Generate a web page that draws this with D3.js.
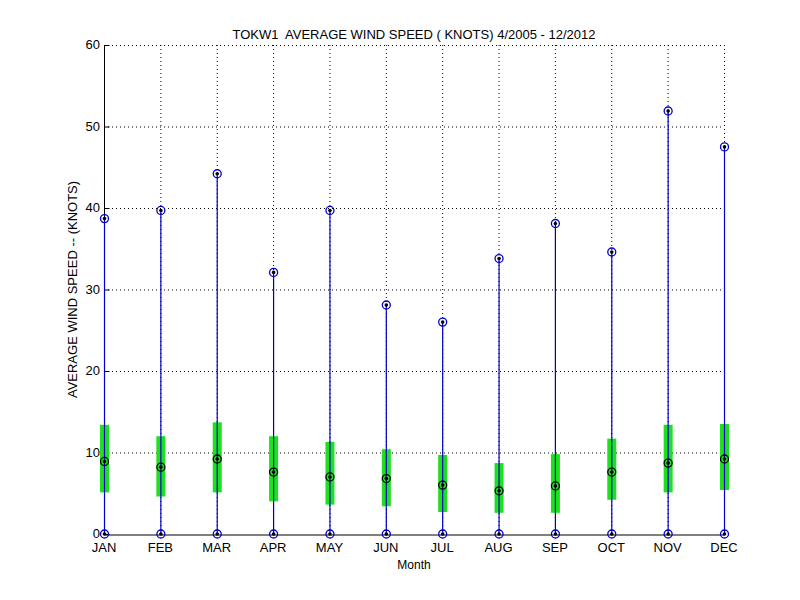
<!DOCTYPE html>
<html>
<head>
<meta charset="utf-8">
<script src="https://cdn.jsdelivr.net/npm/d3@7"></script>
<style>
  body { margin: 0; background: #fff; }
  text { font-family: "Liberation Sans", Arial, sans-serif; fill: #000; }
</style>
</head>
<body>
<div id="vis"></div>
<script>
// chart data
const MONTHS = ["JAN", "FEB", "MAR", "APR", "MAY", "JUN", "JUL", "AUG", "SEP", "OCT", "NOV", "DEC"];
const MAX_SPEED = [38.7, 39.7, 44.2, 32.1, 39.7, 28.1, 26.0, 33.8, 38.1, 34.6, 51.9, 47.5];
const MIN_SPEED = [0, 0, 0, 0, 0, 0, 0, 0, 0, 0, 0, 0];
const UPPER_Q = [13.4, 12.0, 13.7, 12.0, 11.3, 10.4, 9.7, 8.7, 9.8, 11.7, 13.4, 13.5];
const LOWER_Q = [5.1, 4.6, 5.1, 4.0, 3.6, 3.4, 2.7, 2.6, 2.6, 4.2, 5.1, 5.4];
const MEDIAN = [8.9, 8.2, 9.2, 7.6, 7.0, 6.8, 6.0, 5.3, 5.9, 7.6, 8.7, 9.2];
const Y_TICKS = [0, 10, 20, 30, 40, 50, 60];

// frame
const FRAME_WIDTH = 800;
const FRAME_HEIGHT = 600;
const MARGINS = {left: 104, right: 76, top: 45, bottom: 66};
const VIS_WIDTH = FRAME_WIDTH - MARGINS.left - MARGINS.right;
const VIS_HEIGHT = FRAME_HEIGHT - MARGINS.top - MARGINS.bottom;

const svg = d3.select("#vis")
  .append("svg")
  .attr("width", FRAME_WIDTH)
  .attr("height", FRAME_HEIGHT);

const g = svg.append("g")
  .attr("transform", "translate(" + MARGINS.left + "," + MARGINS.top + ")");

// scales: month index 1..12 across, knots up
const X_SCALE = d3.scaleLinear().domain([1, 12]).range([0, VIS_WIDTH]);
const Y_SCALE = d3.scaleLinear().domain([0, 60]).range([VIS_HEIGHT, 0]);

// dotted grid
g.append("g")
  .selectAll("line")
  .data(Y_TICKS.slice(1))
  .enter()
  .append("line")
    .attr("x1", 0)
    .attr("x2", VIS_WIDTH)
    .attr("y1", d => Y_SCALE(d) + 0.5)
    .attr("y2", d => Y_SCALE(d) + 0.5)
    .attr("stroke", "#000")
    .attr("stroke-width", 1)
    .attr("stroke-dasharray", "1,3");

g.append("g")
  .selectAll("line")
  .data(MONTHS.slice(1))
  .enter()
  .append("line")
    .attr("x1", (d, i) => X_SCALE(i + 2) + 0.5)
    .attr("x2", (d, i) => X_SCALE(i + 2) + 0.5)
    .attr("y1", 0)
    .attr("y2", VIS_HEIGHT)
    .attr("stroke", "#000")
    .attr("stroke-width", 1)
    .attr("stroke-dasharray", "1,3");

// y axis with inward ticks
const yAxis = g.append("g")
  .attr("transform", "translate(0.5,0)")
  .call(d3.axisRight(Y_SCALE).tickValues(Y_TICKS).tickSize(5).tickFormat(""));
yAxis.select(".domain").attr("stroke", "#000").attr("d", "M0," + Y_SCALE(60) + "V" + (Y_SCALE(0) + 0.5));
yAxis.selectAll(".tick line").attr("stroke", "#000");

g.append("g")
  .selectAll("text")
  .data(Y_TICKS)
  .enter()
  .append("text")
    .attr("x", -4)
    .attr("y", d => Y_SCALE(d) + 4)
    .attr("text-anchor", "end")
    .attr("font-size", "13px")
    .text(d => d);

// x axis
const xAxis = g.append("g")
  .attr("transform", "translate(0," + (VIS_HEIGHT + 0.5) + ")")
  .call(d3.axisBottom(X_SCALE).tickValues(d3.range(1, 13)).tickSize(0).tickFormat(""));
xAxis.select(".domain").attr("stroke", "#000");

g.append("g")
  .selectAll("text")
  .data(MONTHS)
  .enter()
  .append("text")
    .attr("x", (d, i) => X_SCALE(i + 1))
    .attr("y", VIS_HEIGHT + 18)
    .attr("text-anchor", "middle")
    .attr("font-size", "13px")
    .text(d => d);

// whiskers from min to max
const BLUE = "#0000c8";
g.selectAll(".whisker")
  .data(MONTHS)
  .enter()
  .append("line")
    .attr("class", "whisker")
    .attr("x1", (d, i) => X_SCALE(i + 1) + 0.5)
    .attr("x2", (d, i) => X_SCALE(i + 1) + 0.5)
    .attr("y1", (d, i) => Y_SCALE(MIN_SPEED[i]))
    .attr("y2", (d, i) => Y_SCALE(MAX_SPEED[i]))
    .attr("stroke", BLUE)
    .attr("stroke-width", 1.2);

// green quartile bars
g.selectAll(".box")
  .data(MONTHS)
  .enter()
  .append("rect")
    .attr("class", "box")
    .attr("x", (d, i) => X_SCALE(i + 1) - 4)
    .attr("y", (d, i) => Y_SCALE(UPPER_Q[i]))
    .attr("width", 9)
    .attr("height", (d, i) => Y_SCALE(LOWER_Q[i]) - Y_SCALE(UPPER_Q[i]))
    .attr("fill", "#1ee01e");

// redraw the whisker over the box
g.selectAll(".inner")
  .data(MONTHS)
  .enter()
  .append("line")
    .attr("class", "inner")
    .attr("x1", (d, i) => X_SCALE(i + 1) + 0.5)
    .attr("x2", (d, i) => X_SCALE(i + 1) + 0.5)
    .attr("y1", (d, i) => Y_SCALE(LOWER_Q[i]))
    .attr("y2", (d, i) => Y_SCALE(UPPER_Q[i]))
    .attr("stroke", BLUE)
    .attr("stroke-width", 1.2);

// circle + dot markers
function addMarkers(values, ringColor, cls) {
  const m = g.selectAll("." + cls)
    .data(values)
    .enter()
    .append("g")
      .attr("class", cls)
      .attr("transform", (d, i) => "translate(" + (X_SCALE(i + 1) + 0.5) + "," + Y_SCALE(d) + ")");
  m.append("circle")
    .attr("r", 4)
    .attr("fill", "none")
    .attr("stroke", ringColor)
    .attr("stroke-width", 1.3);
  m.append("circle")
    .attr("r", 1.8)
    .attr("fill", "#000");
}

addMarkers(MAX_SPEED, BLUE, "max-mark");
addMarkers(MIN_SPEED, BLUE, "min-mark");
addMarkers(MEDIAN, "#000", "med-mark");

// title and axis labels
svg.append("text")
  .attr("x", MARGINS.left + VIS_WIDTH / 2)
  .attr("y", 39)
  .attr("text-anchor", "middle")
  .attr("font-size", "13px")
  .attr("xml:space", "preserve")
  .style("white-space", "pre")
  .text("TOKW1  AVERAGE WIND SPEED ( KNOTS) 4/2005 - 12/2012");

svg.append("text")
  .attr("x", MARGINS.left + VIS_WIDTH / 2)
  .attr("y", 569)
  .attr("text-anchor", "middle")
  .attr("font-size", "12px")
  .text("Month");

svg.append("text")
  .attr("transform", "translate(77," + (MARGINS.top + VIS_HEIGHT / 2) + ") rotate(-90)")
  .attr("text-anchor", "middle")
  .attr("font-size", "13px")
  .text("AVERAGE WIND SPEED -- (KNOTS)");
</script>
</body>
</html>
